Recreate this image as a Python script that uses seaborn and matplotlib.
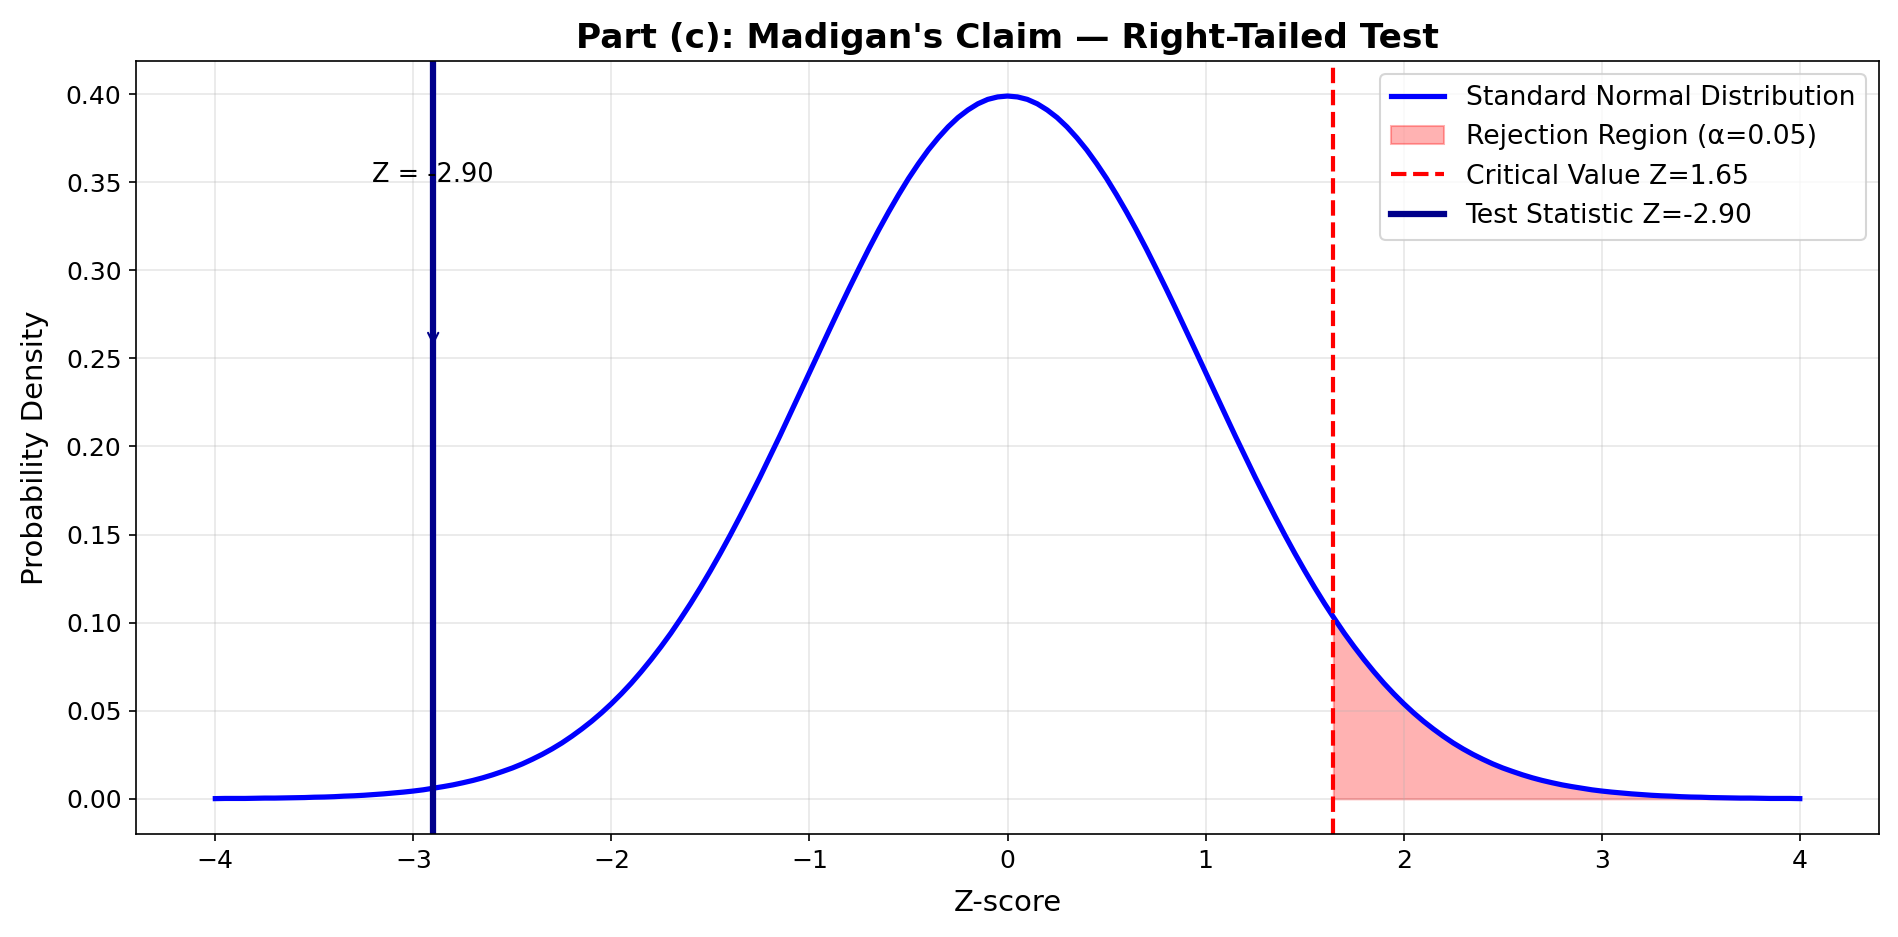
import numpy as np
import pandas as pd
import matplotlib
matplotlib.use("Agg")
import matplotlib.pyplot as plt
import seaborn as sns

# standard normal density, z = -4.00 .. 4.00 in steps of 0.05
z_values = np.round(np.linspace(-4.0, 4.0, 161), 2)
density = [
    0.0001, 0.0002, 0.0002, 0.0002, 0.0003, 0.0004, 0.0004, 0.0005, 0.0006, 0.0007,
    0.0009, 0.0010, 0.0012, 0.0015, 0.0017, 0.0020, 0.0024, 0.0028, 0.0033, 0.0038,
    0.0044, 0.0051, 0.0060, 0.0069, 0.0079, 0.0091, 0.0104, 0.0119, 0.0136, 0.0155,
    0.0175, 0.0198, 0.0224, 0.0252, 0.0283, 0.0317, 0.0355, 0.0396, 0.0440, 0.0488,
    0.0540, 0.0596, 0.0656, 0.0721, 0.0790, 0.0863, 0.0940, 0.1023, 0.1109, 0.1200,
    0.1295, 0.1394, 0.1497, 0.1604, 0.1714, 0.1826, 0.1942, 0.2059, 0.2179, 0.2299,
    0.2420, 0.2541, 0.2661, 0.2780, 0.2897, 0.3011, 0.3123, 0.3230, 0.3332, 0.3429,
    0.3521, 0.3605, 0.3683, 0.3752, 0.3814, 0.3867, 0.3910, 0.3945, 0.3970, 0.3984,
    0.3989,
    0.3984, 0.3970, 0.3945, 0.3910, 0.3867, 0.3814, 0.3752, 0.3683, 0.3605, 0.3521,
    0.3429, 0.3332, 0.3230, 0.3123, 0.3011, 0.2897, 0.2780, 0.2661, 0.2541, 0.2420,
    0.2299, 0.2179, 0.2059, 0.1942, 0.1826, 0.1714, 0.1604, 0.1497, 0.1394, 0.1295,
    0.1200, 0.1109, 0.1023, 0.0940, 0.0863, 0.0790, 0.0721, 0.0656, 0.0596, 0.0540,
    0.0488, 0.0440, 0.0396, 0.0355, 0.0317, 0.0283, 0.0252, 0.0224, 0.0198, 0.0175,
    0.0155, 0.0136, 0.0119, 0.0104, 0.0091, 0.0079, 0.0069, 0.0060, 0.0051, 0.0044,
    0.0038, 0.0033, 0.0028, 0.0024, 0.0020, 0.0017, 0.0015, 0.0012, 0.0010, 0.0009,
    0.0007, 0.0006, 0.0005, 0.0004, 0.0004, 0.0003, 0.0002, 0.0002, 0.0002, 0.0001,
]

z_critical = 1.645
density_critical = 0.1031
z_test = -2.90
alpha = 0.05


def main():
    plt.rcParams['font.size'] = 12

    df = pd.DataFrame({'z': z_values, 'pdf': density})
    df = pd.concat([df, pd.DataFrame({'z': [z_critical], 'pdf': [density_critical]})])
    df = df.sort_values('z').reset_index(drop=True)

    fig, ax = plt.subplots(figsize=(1898 / 150, 937 / 150), dpi=150)
    fig.subplots_adjust(left=0.0717, right=0.99, top=0.935, bottom=0.11)

    sns.lineplot(data=df, x='z', y='pdf', color='blue', linewidth=2.5,
                 label='Standard Normal Distribution', ax=ax)

    # rejection region
    tail = df[df['z'] >= z_critical]
    ax.fill_between(tail['z'], 0, tail['pdf'], color='red', alpha=0.3,
                    label=f'Rejection Region (α={alpha})')

    ax.axvline(z_critical, color='red', linestyle='--', linewidth=2,
               label=f'Critical Value Z={z_critical:.2f}')
    ax.axvline(z_test, color='darkblue', linewidth=3,
               label=f'Test Statistic Z={z_test:.2f}')

    ax.annotate(f'Z = {z_test:.2f}', xy=(z_test, 0.255), xytext=(z_test, 0.35),
                ha='center', fontsize=12.3,
                arrowprops=dict(arrowstyle='->', color='darkblue'))

    ax.set_title("Part (c): Madigan's Claim — Right-Tailed Test",
                 fontsize=16.5, fontweight='bold')
    ax.set_xlabel('Z-score', fontsize=14, labelpad=8)
    ax.set_ylabel('Probability Density', fontsize=14, labelpad=8)
    ax.grid(True, alpha=0.3)
    ax.legend(loc='upper right', fontsize=12.8)

    fig.savefig('out.png', dpi=150)


if __name__ == "__main__":
    main()
